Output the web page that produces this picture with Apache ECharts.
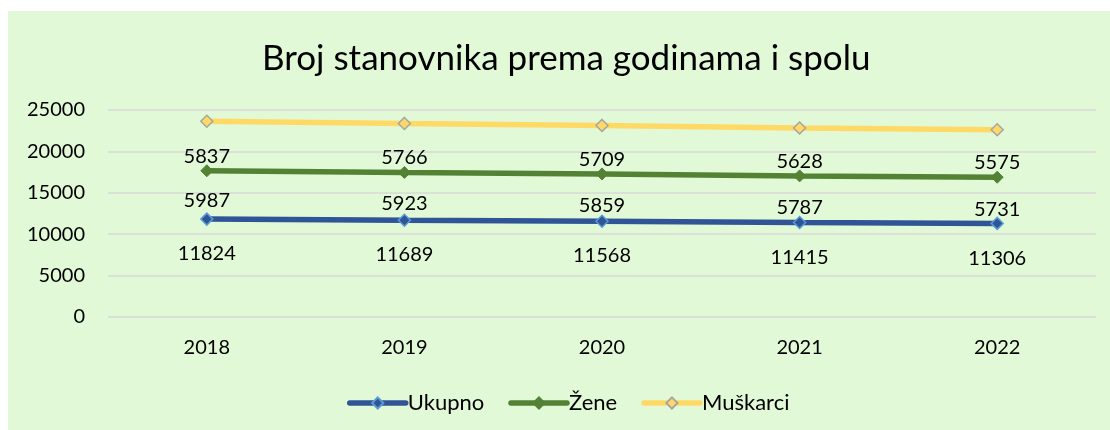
<!DOCTYPE html>
<html>
<head>
<meta charset="utf-8">
<script src="https://cdn.jsdelivr.net/npm/echarts@6/dist/echarts.min.js"></script>
<style>
html,body{margin:0;padding:0;background:#ffffff;}
#chart{position:absolute;left:8px;top:11px;width:1102px;height:419px;background:#E2F9D7;}
</style>
</head>
<body>
<div id="chart"></div>
<script>
const title = 'Broj stanovnika prema godinama i spolu';
const categories = ['2018', '2019', '2020', '2021', '2022'];
const ukupno = [11824, 11689, 11568, 11415, 11306];
const zene = [5837, 5766, 5709, 5628, 5575];
const muskarci = [5987, 5923, 5859, 5787, 5731];
const seriesNames = ['Ukupno', 'Žene', 'Muškarci'];

const FONT = 'Lato';
const chart = echarts.init(document.getElementById('chart'));
const labelStyle = {show: true, fontFamily: FONT, fontSize: 20, color: '#000000'};
chart.setOption({
  backgroundColor: '#E2F9D7',
  animation: false,
  title: {
    text: title, left: 249, top: 25,
    textStyle: {fontFamily: FONT, fontSize: 35, fontWeight: 'normal', color: '#000000'}
  },
  legend: {
    left: 334, top: 376, itemWidth: 56, itemHeight: 14, itemGap: 24,
    lineStyle: {width: 5.5, cap: 'round'},
    textStyle: {fontFamily: FONT, fontSize: 22, color: '#000000', padding: [0,0,0,-3]},
    data: seriesNames
  },
  grid: {left: 100, right: 14, top: 99, bottom: 113},
  xAxis: {
    type: 'category', data: categories, boundaryGap: true,
    axisLine: {show: false}, axisTick: {show: false},
    axisLabel: {fontFamily: FONT, fontSize: 20, color: '#000000', margin: 21}
  },
  yAxis: {
    type: 'value', min: 0, max: 25000, interval: 5000,
    axisLine: {show: false}, axisTick: {show: false},
    axisLabel: {fontFamily: FONT, fontSize: 20, color: '#000000', margin: 23,
      formatter: v => String(v)},
    splitLine: {lineStyle: {color: '#D9D9D9', width: 1.5}}
  },
  series: [
    {
      name: seriesNames[0], type: 'line', stack: 'total', data: ukupno,
      symbol: 'diamond', symbolSize: 12,
      lineStyle: {color: '#2F5597', width: 5.5},
      itemStyle: {color: '#2F5597', borderColor: '#5B9BD5', borderWidth: 1.5},
      label: Object.assign({position: 'bottom', distance: 18}, labelStyle)
    },
    {
      name: seriesNames[1], type: 'line', stack: 'total', data: zene,
      symbol: 'diamond', symbolSize: 12,
      lineStyle: {color: '#548235', width: 5.5},
      itemStyle: {color: '#548235', borderColor: '#548235', borderWidth: 1},
      label: Object.assign({position: 'top', distance: -2}, labelStyle)
    },
    {
      name: seriesNames[2], type: 'line', stack: 'total', data: muskarci,
      symbol: 'diamond', symbolSize: 12,
      lineStyle: {color: '#FFD966', width: 5.5},
      itemStyle: {color: '#FFD966', borderColor: '#A5A5A5', borderWidth: 1.5},
      label: Object.assign({position: 'bottom', distance: 63}, labelStyle)
    }
  ]
});
</script>
</body>
</html>
